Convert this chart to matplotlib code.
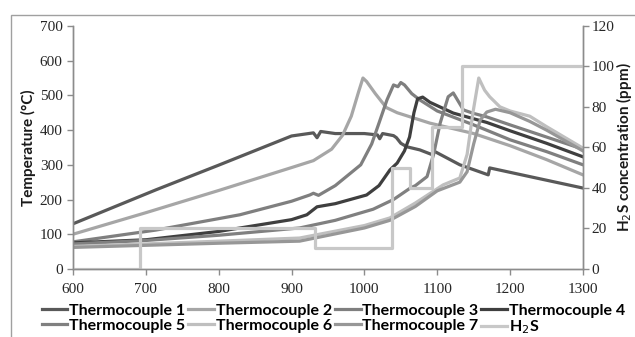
import matplotlib.pyplot as plt
from matplotlib.patches import Rectangle

# temperature traces (x = time axis, y = deg C)
tc1_x = [600, 714, 800, 900, 930, 935, 940, 960, 1000, 1018, 1021, 1025, 1040, 1044, 1050, 1058,
         1076, 1092, 1095, 1131, 1170, 1172, 1227, 1300]
tc1_y = [130, 228, 299, 383, 392, 378, 396, 390, 390, 386, 375, 390, 384, 378, 362, 352,
         343, 330, 340, 300, 271, 291, 266, 233]

tc2_x = [600, 700, 800, 900, 930, 955, 970, 982, 992, 998, 1003, 1015, 1030, 1045, 1060, 1090,
         1150, 1200, 1250, 1300]
tc2_y = [100, 162, 226, 292, 312, 345, 385, 440, 510, 550, 540, 505, 465, 450, 440, 420,
         390, 355, 315, 271]

tc3_x = [600, 714, 829, 900, 925, 930, 937, 960, 995, 1010, 1020, 1031, 1040, 1046, 1050, 1055,
         1065, 1076, 1100, 1150, 1200, 1250, 1300]
tc3_y = [78, 112, 156, 195, 213, 218, 212, 240, 300, 360, 420, 487, 530, 525, 537, 530,
         505, 487, 455, 415, 372, 338, 300]

tc4_x = [600, 700, 800, 900, 921, 935, 960, 1003, 1020, 1035, 1045, 1055, 1062, 1068, 1073, 1080,
         1090, 1122, 1168, 1200, 1250, 1300]
tc4_y = [75, 84, 108, 142, 156, 179, 188, 213, 240, 285, 305, 340, 380, 450, 490, 495,
         480, 449, 422, 398, 362, 323]

tc5_x = [600, 700, 800, 911, 960, 1012, 1040, 1063, 1070, 1086, 1095, 1104, 1115, 1122, 1136,
         1150, 1168, 1200, 1250, 1300]
tc5_y = [72, 82, 97, 118, 140, 172, 200, 233, 240, 266, 330, 420, 496, 507, 458,
         448, 438, 415, 380, 345]

tc6_x = [600, 700, 800, 911, 1000, 1035, 1070, 1108, 1131, 1141, 1149, 1157, 1165, 1172, 1186,
         1200, 1227, 1250, 1300]
tc6_y = [65, 72, 80, 89, 125, 147, 190, 242, 262, 330, 450, 550, 515, 496, 467,
         455, 440, 410, 348]

tc7_x = [600, 700, 800, 911, 1000, 1035, 1070, 1100, 1131, 1141, 1150, 1159, 1168, 1180, 1200,
         1227, 1250, 1300]
tc7_y = [62, 68, 74, 80, 118, 140, 180, 225, 250, 280, 360, 429, 452, 460, 450,
         425, 400, 340]

# H2S concentration, ppm (step changes)
h2s_x = [600, 692, 932, 1038, 1063, 1093, 1134, 1300]
h2s_y = [0, 20, 10.5, 50, 40, 70, 100, 100]

fig = plt.figure(figsize=(6.35, 3.37), dpi=100)
ax = fig.add_axes([0.115, 0.202, 0.803, 0.721])
ax2 = ax.twinx()

lw = 2.3
l1, = ax.plot(tc1_x, tc1_y, color='#595959', lw=lw, label='Thermocouple 1')
l2, = ax.plot(tc2_x, tc2_y, color='#a6a6a6', lw=lw, label='Thermocouple 2')
l3, = ax.plot(tc3_x, tc3_y, color='#7f7f7f', lw=lw, label='Thermocouple 3')
l4, = ax.plot(tc4_x, tc4_y, color='#3f3f3f', lw=lw, label='Thermocouple 4')
l5, = ax.plot(tc5_x, tc5_y, color='#808080', lw=lw, label='Thermocouple 5')
l6, = ax.plot(tc6_x, tc6_y, color='#bfbfbf', lw=lw, label='Thermocouple 6')
l7, = ax.plot(tc7_x, tc7_y, color='#979797', lw=lw, label='Thermocouple 7')
lh, = ax2.plot(h2s_x, h2s_y, color='#c8c8c8', lw=lw, drawstyle='steps-post', label='H$_2$S')

ax.set_xlim(600, 1300)
ax.set_ylim(0, 700)
ax2.set_ylim(0, 120)
ax.set_xticks(range(600, 1301, 100))
ax.set_yticks(range(0, 701, 100))
ax2.set_yticks(range(0, 121, 20))

for a in (ax, ax2):
    a.spines['top'].set_visible(False)
    for s in ('left', 'right', 'bottom'):
        a.spines[s].set_color('#8c8c8c')
        a.spines[s].set_linewidth(1.0)
    a.tick_params(colors='#8c8c8c', length=4, width=1.0, labelcolor='#262626', labelsize=11)
    for t in a.get_xticklabels() + a.get_yticklabels():
        t.set_family('Liberation Serif')
ax.tick_params(axis='x', pad=6)
ax2.tick_params(axis='y', pad=2)

lab_font = dict(family='Lato', fontsize=11, fontweight='bold', color='#1a1a1a')
ax.set_ylabel('Temperature (°C)', labelpad=3, **lab_font)
ax2.set_ylabel('H$_2$S concentration (ppm)', labelpad=0, **lab_font)

handles = [l1, l5, l2, l6, l3, l7, l4, lh]
fig.legend(handles=handles, labels=[h.get_label() for h in handles], ncol=4,
           loc='lower center', bbox_to_anchor=(0.525, -0.04), frameon=False,
           prop={'family': 'Lato', 'size': 11.5, 'weight': 'bold'}, handlelength=1.6,
           handletextpad=0.1, columnspacing=0.2, labelspacing=0.05)

fig.patches.append(Rectangle((11 / 635, -0.2), 1.2, 1 - 15 / 337 + 0.2, transform=fig.transFigure,
                             fill=False, edgecolor='#a0a0a0', lw=1.0))

fig.savefig('out.png', dpi=100)
